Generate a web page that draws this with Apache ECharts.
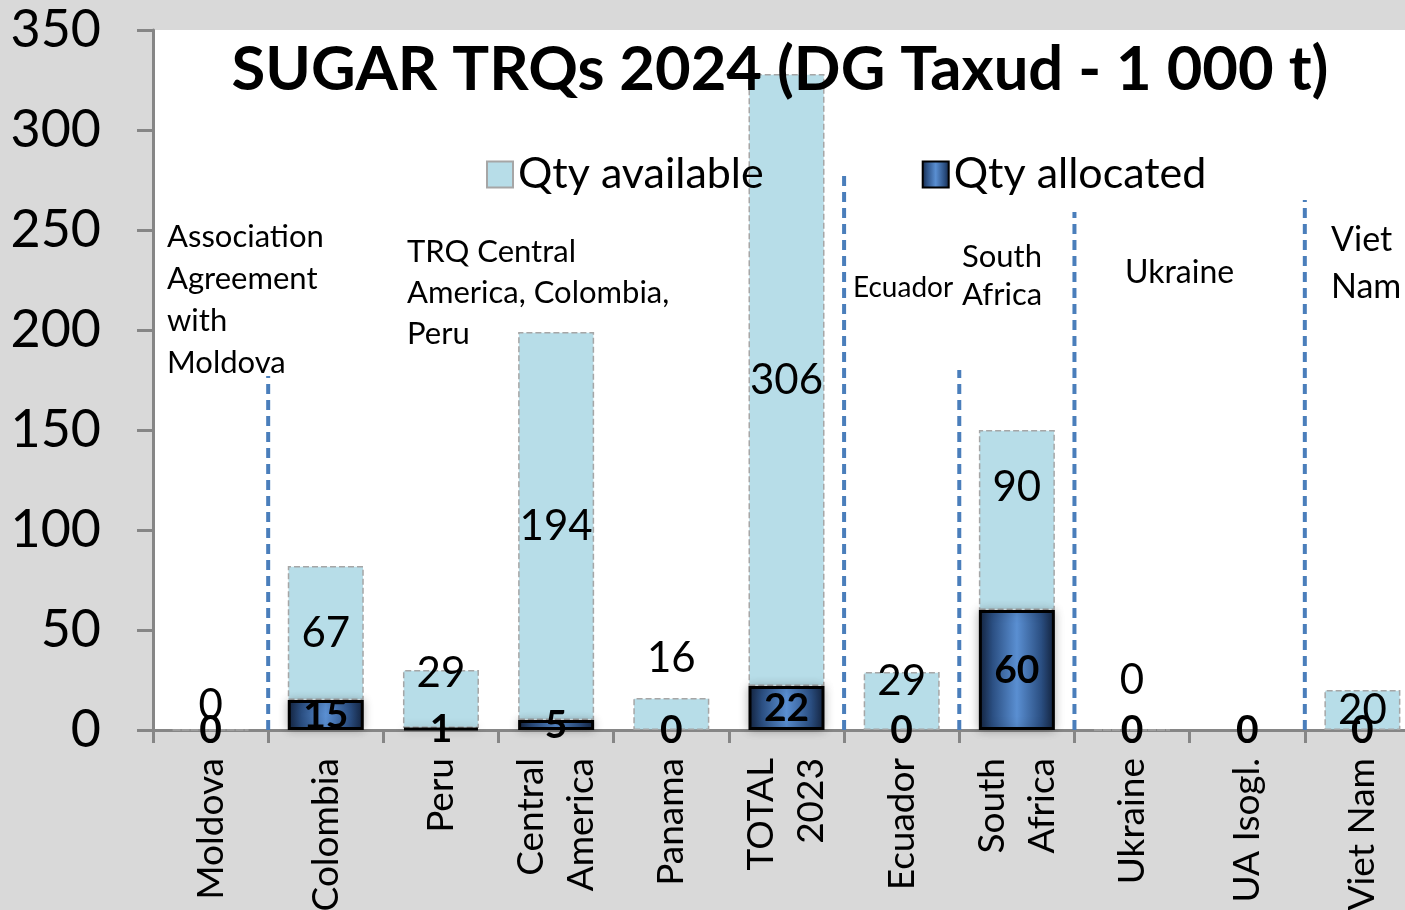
<!DOCTYPE html>
<html>
<head>
<meta charset="utf-8">
<title>SUGAR TRQs 2024</title>
<script src="https://cdn.jsdelivr.net/npm/echarts@6/dist/echarts.min.js"></script>
<style>
  html, body { margin: 0; padding: 0; background: #d9d9d9; }
  /* the original picture is cut off on the right, so the chart is a bit wider than its frame */
  #frame { position: relative; width: 1405px; height: 910px; overflow: hidden; }
  #chart { position: absolute; left: 0; top: 0; width: 1420px; height: 910px; }
</style>
</head>
<body>
<div id="frame"><div id="chart"></div></div>
<script>
// categories and values (1 000 t)
var categories = ['Moldova', 'Colombia', 'Peru', 'Central\nAmerica', 'Panama', 'TOTAL\n2023',
    'Ecuador', 'South\nAfrica', 'Ukraine', 'UA Isogl.', 'Viet Nam'];
var qtyAllocated = [0, 15, 1, 5, 0, 22, 0, 60, 0, 0, 0];
var qtyAvailable = [0, 67, 29, 194, 16, 306, 29, 90, 0, null, 20];

// dividers between agreement groups (category boundary, top value)
var dividerPos = [1, 6, 7, 8, 10];
var dividerTop = [177, 280, 180, 259, 265];

// label shifts for "available" (Excel had them moved by hand)
var availLabelShift = [-25, 0, -26, 0, -56, 0, -20, -33, -50, 0, 0];

var FONT = 'Lato, "Noto Sans", sans-serif';
var chart = echarts.init(document.getElementById('chart'));

var darkFill = new echarts.graphic.LinearGradient(0, 0, 1, 0, [
    { offset: 0, color: '#142440' },
    { offset: 0.18, color: '#2b4f82' },
    { offset: 0.5, color: '#5a8fd2' },
    { offset: 0.82, color: '#2b4f82' },
    { offset: 1, color: '#142440' }
]);

var allocData = qtyAllocated.map(function (v) {
    // no border for empty bars, otherwise a black line shows on the axis
    return v === 0 ? { value: v, itemStyle: { borderWidth: 0, shadowBlur: 0 } } : { value: v };
});

var availData = qtyAvailable.map(function (v, i) {
    return {
        value: v == null ? '-' : v,
        label: { offset: [0, availLabelShift[i]] }
    };
});

var dividerSeries = dividerPos.map(function (p, i) {
    return {
        type: 'line',
        xAxisIndex: 1,
        yAxisIndex: 0,
        silent: true,
        symbol: 'none',
        z: 1,
        lineStyle: { color: '#4a7ebb', width: 4, type: [10, 6] },
        data: [[p, 0], [p, dividerTop[i]]]
    };
});

function note(x, y, text, size, lh) {
    return {
        type: 'text', left: x, top: y, z: 50,
        style: { text: text, fill: '#000', font: size + 'px ' + FONT, lineHeight: lh }
    };
}

var option = {
    backgroundColor: '#d9d9d9',
    animation: false,
    title: {
        text: 'SUGAR TRQs 2024 (DG Taxud - 1 000 t)',
        left: 775,
        textAlign: 'center',
        top: 34,
        textStyle: { fontFamily: FONT, fontWeight: 'bold', fontSize: 61.5, color: '#000' },
        z: 20
    },
    legend: {
        left: 481,
        top: 148,
        itemGap: 158,
        itemWidth: 26,
        itemHeight: 26,
        icon: 'rect',
        textStyle: { fontFamily: FONT, fontSize: 43, color: '#000' },
        data: ['Qty available', 'Qty allocated']
    },
    grid: {
        left: 153, right: 0, top: 30, bottom: 180,
        outerBoundsMode: 'none',
        show: true, backgroundColor: '#ffffff', borderWidth: 0
    },
    xAxis: [{
        type: 'category',
        data: categories,
        axisLine: { lineStyle: { color: '#868686', width: 3 } },
        axisTick: { show: true, interval: 0, length: 13, lineStyle: { color: '#868686', width: 3 } },
        axisLabel: {
            interval: 0, rotate: 90, margin: 28, color: '#000',
            fontFamily: FONT, fontSize: 37, lineHeight: 50
        }
    }, {
        type: 'value', min: 0, max: 11, show: false
    }],
    yAxis: {
        type: 'value',
        min: 0, max: 350, interval: 50,
        axisLine: { show: true, lineStyle: { color: '#868686', width: 3 } },
        axisTick: { show: true, length: 16, lineStyle: { color: '#868686', width: 3 } },
        splitLine: { show: false },
        axisLabel: { margin: 52, color: '#000', fontFamily: FONT, fontSize: 52 }
    },
    graphic: [
        note(167, 216, 'Association\nAgreement\nwith\nMoldova', 31, 42),
        note(407, 231, 'TRQ Central\nAmerica, Colombia,\nPeru', 31, 41),
        note(853, 271, 'Ecuador', 28, 34),
        note(962, 238, 'South\nAfrica', 31, 38),
        note(1125, 254, 'Ukraine', 32, 38),
        note(1331, 217, 'Viet\nNam', 34, 47)
    ],
    series: [{
        name: 'Qty allocated',
        type: 'bar',
        stack: 'q',
        barWidth: 76,
        z: 3,
        data: allocData,
        itemStyle: {
            color: darkFill, borderColor: '#000', borderWidth: 3,
            shadowBlur: 10, shadowColor: 'rgba(0,0,0,0.25)'
        },
        label: {
            show: true, position: 'inside', color: '#000',
            fontFamily: FONT, fontWeight: 'bold', fontSize: 39
        }
    }, {
        name: 'Qty available',
        type: 'bar',
        stack: 'q',
        barWidth: 74,
        z: 2,
        data: availData,
        itemStyle: {
            color: '#b7dde8', borderColor: '#a6a6a6', borderWidth: 1.5, borderType: 'dashed'
        },
        label: {
            show: true, position: 'inside', color: '#000',
            fontFamily: FONT, fontSize: 42
        }
    }].concat(dividerSeries)
};

chart.setOption(option);
</script>
</body>
</html>
